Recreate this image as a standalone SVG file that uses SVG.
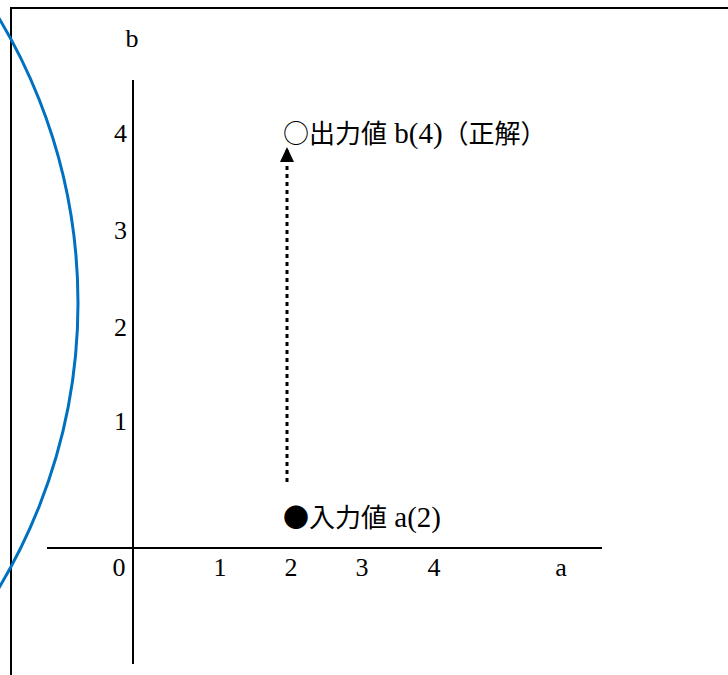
<svg xmlns="http://www.w3.org/2000/svg" width="728" height="675" viewBox="0 0 728 675">
<defs>
<style>
.t{font-family:"Liberation Serif","Noto Sans CJK JP",serif;font-size:26px;fill:#000}
.lbl{font-family:"Liberation Serif","Noto Sans CJK JP",serif;font-size:29px;fill:#000}
.cjk{font-family:"Noto Sans CJK JP",sans-serif;font-size:26px}
.ax{stroke:#000;stroke-width:2;fill:none}
</style>
<marker id="ah" viewBox="0 0 15 14" refX="15" refY="7" markerWidth="15" markerHeight="14" markerUnits="userSpaceOnUse" orient="auto">
<path d="M0 0 L15 7 L0 14 Z" fill="#000"/>
</marker>
</defs>
<rect width="728" height="675" fill="#fff"/>
<g id="frame">
<path d="M11 675 V8 H728" class="ax"/>
</g>
<g id="circle">
<circle cx="-474" cy="303" r="552" fill="none" stroke="#0070C0" stroke-width="3"/>
</g>
<g id="axes">
<line x1="133" y1="80" x2="133" y2="664" class="ax"/>
<line x1="47" y1="548" x2="602" y2="548" class="ax"/>
<text class="t" x="132" y="47" text-anchor="middle">b</text>
<text class="t" x="561" y="576" text-anchor="middle">a</text>
<text class="t" x="127" y="142" text-anchor="end">4</text>
<text class="t" x="127" y="239" text-anchor="end">3</text>
<text class="t" x="127" y="336" text-anchor="end">2</text>
<text class="t" x="127" y="430" text-anchor="end">1</text>
<text class="t" x="119" y="576" text-anchor="middle">0</text>
<text class="t" x="220" y="576" text-anchor="middle">1</text>
<text class="t" x="291" y="576" text-anchor="middle">2</text>
<text class="t" x="362" y="576" text-anchor="middle">3</text>
<text class="t" x="434" y="576" text-anchor="middle">4</text>
</g>
<g id="connectors">
<line x1="287" y1="482" x2="287" y2="147" stroke="#000" stroke-width="3" stroke-dasharray="4 4" marker-end="url(#ah)"/>
</g>
<g id="output">
<text class="lbl" x="283" y="143"><tspan class="cjk">○出力値</tspan> b(4)<tspan class="cjk">（正解）</tspan></text>
</g>
<g id="input">
<text class="lbl" x="283" y="527"><tspan class="cjk">●入力値</tspan> a(2)</text>
</g>
</svg>
